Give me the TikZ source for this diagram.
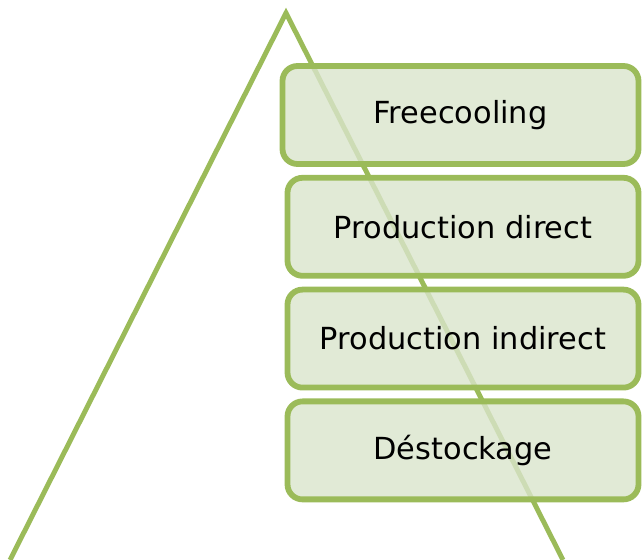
\documentclass[tikz,border=0pt]{standalone}
\usepackage{fontspec}
\setmainfont{DejaVu Sans}
\usetikzlibrary{positioning}
\definecolor{olivegreen}{RGB}{155,187,89}
\definecolor{olivefill}{RGB}{218,229,204}

\begin{document}
\begin{tikzpicture}[every node/.style={font=\fontsize{17.3}{20}\selectfont},
    levelbox/.style={draw=olivegreen,line width=3.3pt,fill=olivefill,
      fill opacity=0.8,text opacity=1,rounded corners=0.3cm,
      minimum width=7.02cm,minimum height=1.96cm,inner sep=0pt}]
      \useasboundingbox (0,0) rectangle (12.84,11.2);

      % pyramid outline, open at the bottom
      \coordinate (apex) at (5.72,10.94);
      \coordinate (baseL) at (0.2,0);
      \coordinate (baseR) at (11.26,0);
      \draw[olivegreen,line width=2.8pt] (baseL) -- (apex) -- (baseR);

      \node[levelbox,minimum width=7.12cm] (free) at (9.21,8.9) {Freecooling};
      \node[levelbox,below=0.16cm of free,xshift=0.05cm] (direct) {Production direct};
      \node[levelbox,below=0.16cm of direct] (indirect) {Production indirect};
      \node[levelbox,below=0.16cm of indirect] (destock) {Déstockage};
    \end{tikzpicture}
\end{document}
